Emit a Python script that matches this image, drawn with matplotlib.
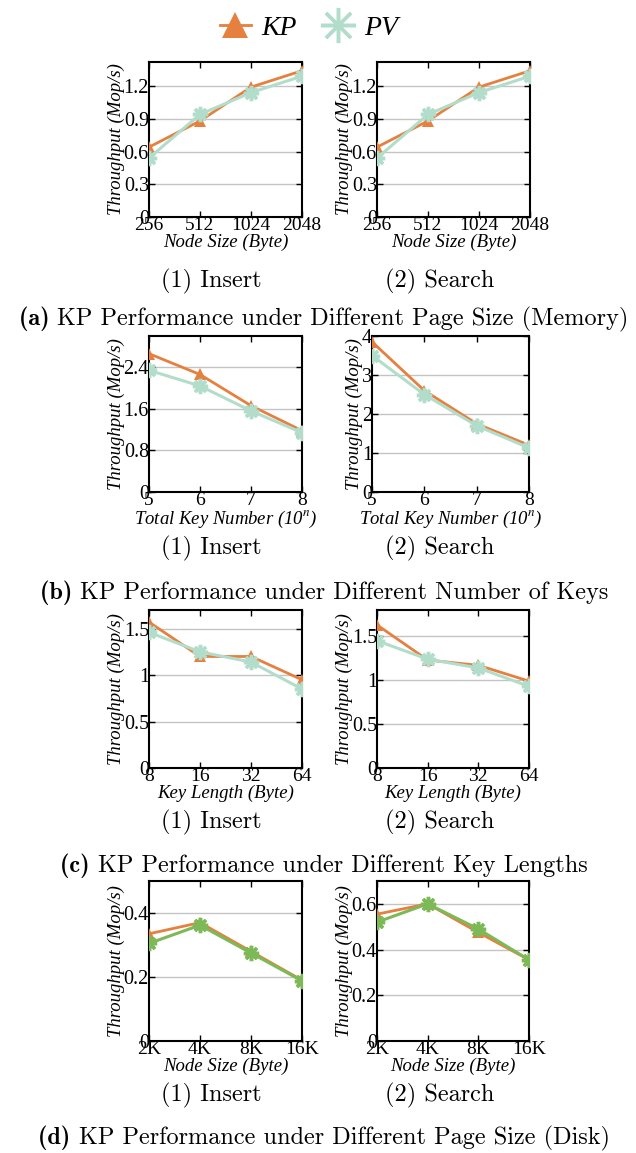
import matplotlib
matplotlib.use("Agg")
import matplotlib.pyplot as plt

# ── Datos ─────────────────────────────────────────────────────────────────
NODE_MEM   = ['256', '512', '1024', '2048']
KEY_NUM    = ['5', '6', '7', '8']
KEY_LEN    = ['8', '16', '32', '64']
NODE_DISK  = ['2K', '4K', '8K', '16K']

a_ins_kp = [0.64, 0.88, 1.19, 1.34]
a_ins_pv = [0.54, 0.94, 1.14, 1.29]
a_sea_kp = [0.64, 0.88, 1.19, 1.34]
a_sea_pv = [0.54, 0.94, 1.14, 1.29]

b_ins_kp = [2.66, 2.26, 1.66, 1.18]
b_ins_pv = [2.34, 2.04, 1.56, 1.14]
b_sea_kp = [3.85, 2.60, 1.75, 1.20]
b_sea_pv = [3.50, 2.50, 1.70, 1.13]

c_ins_kp = [1.57, 1.20, 1.20, 0.95]
c_ins_pv = [1.46, 1.25, 1.14, 0.85]
c_sea_kp = [1.63, 1.23, 1.17, 0.99]
c_sea_pv = [1.45, 1.24, 1.14, 0.93]

d_ins_kp = [0.335, 0.370, 0.280, 0.190]
d_ins_pv = [0.305, 0.362, 0.275, 0.188]
d_sea_kp = [0.555, 0.600, 0.475, 0.355]
d_sea_pv = [0.520, 0.600, 0.490, 0.355]

C_KP   = '#E5803F'
C_PV   = '#B3DDCB'
C_PV_D = '#7DBA57'

W, H = 636, 1153
plt.rcParams['mathtext.fontset'] = 'stix'

fig = plt.figure(figsize=(W / 100, H / 100), dpi=100)


def make_ax(x0, x1, y0, y1):
    return fig.add_axes([x0 / W, 1 - y1 / H, (x1 - x0) / W, (y1 - y0) / H])


def panel(ax, cats, kp, pv, ylim, yticks, yticklabels, xlabel, pv_color):
    x = list(range(len(cats)))
    ax.plot(x, kp, color=C_KP, lw=2, marker='^', ms=8, mew=0, label='KP', zorder=3)
    ax.plot(x, pv, color=pv_color, lw=2.2, marker=(8, 2, 0), ms=11, mew=2.5,
            mec=pv_color, label='PV', zorder=4)
    ax.set_xlim(0, len(cats) - 1)
    ax.set_ylim(*ylim)
    ax.set_xticks(x)
    ax.set_xticklabels(cats, family='Liberation Serif', fontsize=14)
    ax.set_yticks(yticks)
    ax.set_yticklabels(yticklabels, family='Liberation Serif', fontsize=14.5)
    ax.grid(axis='y', color='#C4C4C4', lw=1)
    ax.set_axisbelow(True)
    for s in ax.spines.values():
        s.set_linewidth(1.5)
    ax.tick_params(direction='in', top=True, right=True, length=4, width=1)
    ax.tick_params(axis='x', pad=0)
    ax.tick_params(axis='y', pad=0)
    ax.set_xlabel(xlabel, family='Liberation Serif', style='italic',
                  fontsize=13.5, labelpad=0)
    ax.set_ylabel('Throughput (Mop/s)', family='Liberation Serif',
                  style='italic', fontsize=13.5, labelpad=-1)


rows = [
    # (arriba, abajo, x eje izq, x eje der)
    (62, 217, (149, 302), (377, 530)),
    (336, 492, (149, 302), (372, 529)),
    (610, 768, (149, 302), (377, 529)),
    (881, 1041, (149, 302), (377, 529)),
]

specs = [
    [(NODE_MEM, a_ins_kp, a_ins_pv, (0, 1.42), [0, 0.3, 0.6, 0.9, 1.2],
      ['0', '0.3', '0.6', '0.9', '1.2'], 'Node Size (Byte)', C_PV),
     (NODE_MEM, a_sea_kp, a_sea_pv, (0, 1.42), [0, 0.3, 0.6, 0.9, 1.2],
      ['0', '0.3', '0.6', '0.9', '1.2'], 'Node Size (Byte)', C_PV)],
    [(KEY_NUM, b_ins_kp, b_ins_pv, (0, 3.0), [0, 0.8, 1.6, 2.4],
      ['0', '0.8', '1.6', '2.4'], r'Total Key Number (10$^{n}$)', C_PV),
     (KEY_NUM, b_sea_kp, b_sea_pv, (0, 4.0), [0, 1, 2, 3, 4],
      ['0', '1', '2', '3', '4'], r'Total Key Number (10$^{n}$)', C_PV)],
    [(KEY_LEN, c_ins_kp, c_ins_pv, (0, 1.7), [0, 0.5, 1, 1.5],
      ['0', '0.5', '1', '1.5'], 'Key Length (Byte)', C_PV),
     (KEY_LEN, c_sea_kp, c_sea_pv, (0, 1.8), [0, 0.5, 1, 1.5],
      ['0', '0.5', '1', '1.5'], 'Key Length (Byte)', C_PV)],
    [(NODE_DISK, d_ins_kp, d_ins_pv, (0, 0.5), [0, 0.2, 0.4],
      ['0', '0.2', '0.4'], 'Node Size (Byte)', C_PV_D),
     (NODE_DISK, d_sea_kp, d_sea_pv, (0, 0.7), [0, 0.2, 0.4, 0.6],
      ['0', '0.2', '0.4', '0.6'], 'Node Size (Byte)', C_PV_D)],
]

sub_y = [281, 548, 822, 1095]
cap_y = [319, 593, 866, 1138]
captions = [
    ('(a)', 'KP Performance under Different Page Size (Memory)'),
    ('(b)', 'KP Performance under Different Number of Keys'),
    ('(c)', 'KP Performance under Different Key Lengths'),
    ('(d)', 'KP Performance under Different Page Size (Disk)'),
]

first_ax = None
for r, (top, bot, xl, xr) in enumerate(rows):
    for c, (xx, spec) in enumerate(zip([xl, xr], specs[r])):
        ax = make_ax(xx[0], xx[1], top, bot)
        panel(ax, *spec)
        if first_ax is None:
            first_ax = ax
    fig.text(211 / W, 1 - sub_y[r] / H, '(1) Insert', family='cmr10',
             fontsize=17.5, ha='center', va='center')
    fig.text(440 / W, 1 - sub_y[r] / H, '(2) Search', family='cmr10',
             fontsize=17.5, ha='center', va='center')
    # caption: "(a)" en negrita + resto normal, centrado en conjunto
    tag, txt = captions[r]
    full = fig.text(324 / W, 1 - cap_y[r] / H, tag + ' ' + txt, family='cmr10',
                    fontsize=17.5, ha='center', va='center', alpha=0)
    fig.canvas.draw()
    bb = full.get_window_extent()
    t1 = fig.text(bb.x0 / W, 1 - cap_y[r] / H, tag + ' ', family='cmb10',
                  fontsize=17.5, ha='left', va='center')
    bb1 = t1.get_window_extent()
    fig.text(bb1.x1 / W, 1 - cap_y[r] / H, txt, family='cmr10',
             fontsize=17.5, ha='left', va='center')

handles, labels = first_ax.get_legend_handles_labels()
leg = fig.legend(handles, labels, loc='center', bbox_to_anchor=(309 / W, 1 - 28 / H),
                 ncol=2, frameon=False, markerscale=2.3, handlelength=1.1,
                 columnspacing=0.9, handletextpad=0.4,
                 prop={'family': 'Liberation Serif', 'style': 'italic', 'size': 20})

fig.savefig('out.png', dpi=100)
